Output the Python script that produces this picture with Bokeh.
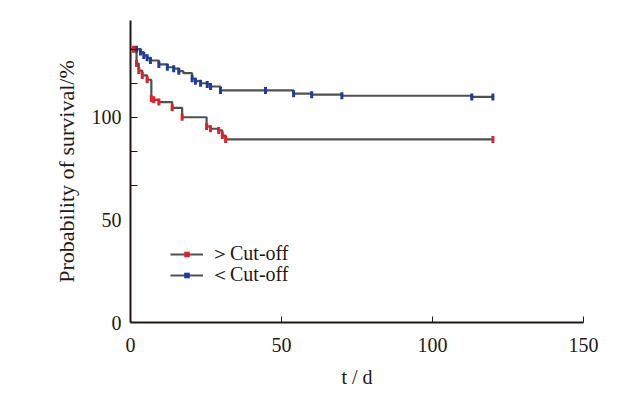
import numpy as np
from bokeh.plotting import figure
from bokeh.models import Range1d, FixedTicker, Legend, LegendItem
from bokeh.embed import file_html
from bokeh.resources import INLINE

# ---- data (y in the axis' label units) ----
red_t = [0, 2.0, 2.75, 3.9, 5.5, 6.9, 7.7, 9.4, 13.8, 17.1, 25.2, 26.5, 29.2, 30.4, 31.5]
red_s = [133.3, 126.3, 122.9, 120.5, 118.4, 109.1, 108.6, 107.5, 104.7, 100.1, 95.6, 94.5, 93.7, 91.2, 89.3]
red_cens = [1.0, 2.0, 2.75, 3.9, 5.5, 6.9, 7.7, 9.4, 13.8, 17.1, 25.2, 26.5, 29.2, 30.4, 31.5, 120]

blue_t = [0, 3.3, 4.4, 5.5, 6.6, 9.4, 12.2, 14.3, 16.0, 17.5, 20.4, 21.5, 23.2, 25.4, 26.5, 29.8, 54, 60, 70, 113]
blue_s = [133.3, 131.9, 130.2, 129.1, 127.8, 125.9, 124.5, 123.8, 122.6, 121.6, 118.9, 117.7, 116.7, 116.1, 115.1, 113.2, 111.6, 111.1, 110.6, 110.0]
blue_cens = [2.0, 3.3, 4.4, 5.5, 6.6, 9.4, 12.2, 14.3, 16.0, 20.4, 21.5, 23.2, 25.4, 26.5, 29.8, 44.7, 54, 60, 70, 113, 120]

t_end = 120
x_ticks = [0, 50, 100, 150]
y_label_ticks = [0, 50, 100]
y_minor_ticks = [200 / 3, 250 / 3, 100, 350 / 3, 400 / 3]

labels = ["＞Cut-off", "＜Cut-off"]
RED = "#e3202a"
BLUE = "#1e3c9c"
LINE = "#505050"
INK = "#231815"
FONT = "Liberation Serif"


def step_at(ts, ss, q):
    idx = np.searchsorted(np.array(ts), np.array(q), side="right") - 1
    return [ss[i] for i in idx]


p = figure(width=608, height=393, output_backend="svg", toolbar_location=None,
           x_range=Range1d(0, 150), y_range=Range1d(0, 147.3),
           min_border_left=130, min_border_right=25, min_border_top=20, min_border_bottom=71)
p.outline_line_color = None
p.xgrid.visible = False
p.ygrid.visible = False
p.background_fill_color = "white"

# curves
r_line = p.step(red_t + [t_end], red_s + [red_s[-1]], mode="after", line_color=LINE, line_width=2.2)
b_line = p.step(blue_t + [t_end], blue_s + [blue_s[-1]], mode="after", line_color=LINE, line_width=2.2)
r_y = step_at(red_t, red_s, red_cens)
b_y = step_at(blue_t, blue_s, blue_cens)
p.scatter(red_cens, r_y, marker="dash", angle=np.pi / 2, size=7, line_color=RED, line_width=3)
p.scatter(blue_cens, b_y, marker="dash", angle=np.pi / 2, size=7, line_color=BLUE, line_width=3)
# zero-size copies: invisible on the plot, give the legend its censor symbol
r_leg = p.scatter(red_cens, r_y, marker="square", size=0, line_color=None, fill_color=RED)
b_leg = p.scatter(blue_cens, b_y, marker="square", size=0, line_color=None, fill_color=BLUE)

# axes
for ax in (p.xaxis[0], p.yaxis[0]):
    ax.axis_line_color = INK
    ax.axis_line_width = 2
    ax.major_tick_line_color = INK
    ax.minor_tick_line_color = INK
    ax.major_label_text_font = FONT
    ax.major_label_text_font_size = "20px"
    ax.major_label_text_color = INK
    ax.axis_label_text_font = FONT
    ax.axis_label_text_font_style = "normal"
    ax.axis_label_text_color = INK

p.xaxis.ticker = FixedTicker(ticks=x_ticks)
p.xaxis.major_tick_in = 6
p.xaxis.major_tick_out = 0
p.xaxis.major_label_standoff = 15
p.xaxis.axis_label = "t / d"
p.xaxis.axis_label_text_font_size = "20px"
p.xaxis.axis_label_standoff = 11

p.yaxis.ticker = FixedTicker(ticks=y_label_ticks, minor_ticks=y_minor_ticks)
p.yaxis.major_tick_in = 0
p.yaxis.major_tick_out = 0
p.yaxis.minor_tick_in = 7
p.yaxis.minor_tick_out = 0
p.yaxis.major_label_standoff = 9
p.yaxis.axis_label = "Probability of survival/%"
p.yaxis.axis_label_text_font_size = "22px"
p.yaxis.axis_label_standoff = 10

# legend: one box per row so the row pitch matches
for lab, rends, y0 in ((labels[0], [r_line, r_leg], 55), (labels[1], [b_line, b_leg], 34)):
    lg = Legend(items=[LegendItem(label=lab, renderers=rends)],
                location=(40, y0), padding=0, margin=0, spacing=0,
                glyph_width=33, glyph_height=14, label_height=14, label_standoff=7,
                label_text_font=FONT, label_text_font_size="20px", label_text_color=INK,
                border_line_color=None, background_fill_alpha=0)
    p.add_layout(lg)

open("out.html", "w").write(file_html(p, INLINE))
